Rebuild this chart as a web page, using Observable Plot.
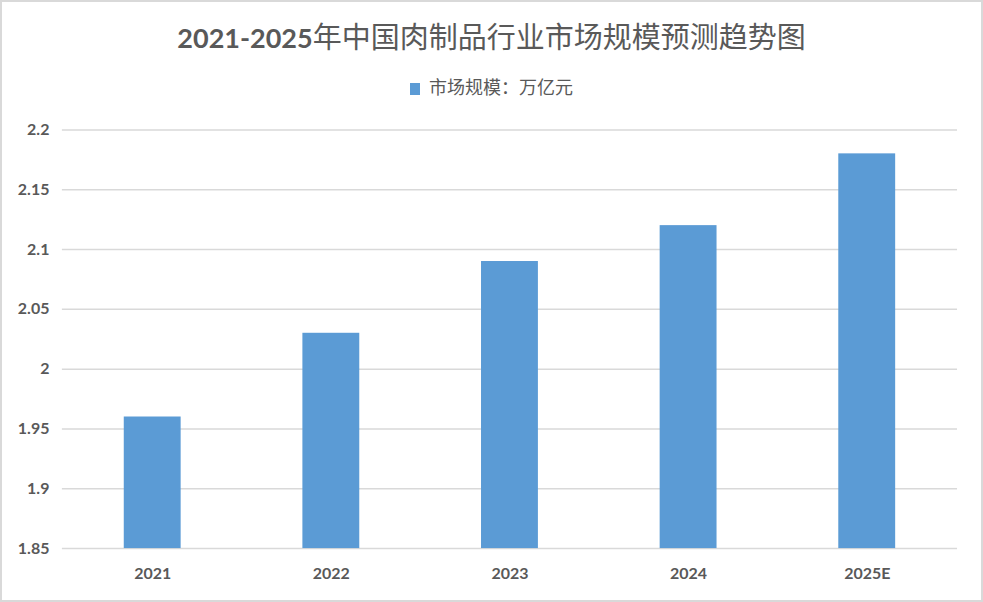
<!DOCTYPE html>
<html><head><meta charset="utf-8">
<script src="https://cdn.jsdelivr.net/npm/d3@7"></script>
<script src="https://cdn.jsdelivr.net/npm/@observablehq/plot@0.6"></script>
<style>
body{margin:0;background:#fff}
#frame{position:relative;width:983px;height:602px;box-sizing:border-box;border:2px solid #d9d9d9;overflow:hidden;background:#fff}
#title{position:absolute;top:13px;left:-2px;width:983px;text-align:center;font-size:29px;color:#595959;font-family:"Noto Sans CJK SC";line-height:40px;white-space:nowrap}
#title .num{font-family:Lato;font-weight:bold;font-size:27px}
#legend{position:absolute;top:71px;left:-2px;width:983px;text-align:center;font-family:"Noto Sans CJK SC";font-size:18px;color:#595959;line-height:26px}
#legend .sw{display:inline-block;width:10px;height:12px;background:#5b9bd5;margin-right:9px;vertical-align:-1px}
#chart{position:absolute;top:98px;left:-2px}
</style></head>
<body>
<div id="frame">
  <div id="title"><span class="num">2021-2025</span>年中国肉制品行业市场规模预测趋势图</div>
  <div id="legend"><span class="sw"></span>市场规模：万亿元</div>
  <div id="chart"></div>
</div>
<script>
const categories = ["2021","2022","2023","2024","2025E"];
const values = [1.96, 2.03, 2.09, 2.12, 2.18];
const yTicks = [1.85, 1.9, 1.95, 2, 2.05, 2.1, 2.15, 2.2];
const yTickLabels = ["1.85","1.9","1.95","2","2.05","2.1","2.15","2.2"];

const data = categories.map((c, i) => ({year: c, value: values[i]}));
const baseline = yTicks[0];

const chart = Plot.plot({
  width: 983,
  height: 500,
  marginLeft: 62,
  marginRight: 24,
  marginTop: 29.5,
  marginBottom: 51,
  x: {domain: categories, paddingInner: 0.68, paddingOuter: 0.34, label: null},
  y: {domain: [yTicks[0], yTicks[yTicks.length - 1]], label: null},
  style: {fontFamily: "Lato", fontWeight: "bold", fontSize: "16px", color: "#595959", background: "transparent", overflow: "visible"},
  marks: [
    Plot.ruleY(yTicks, {stroke: "#d9d9d9", strokeWidth: 1.5}),
    Plot.barY(data, {x: "year", y1: baseline, y2: "value", fill: "#5b9bd5"}),
    Plot.axisY({ticks: yTicks, tickSize: 0, tickPadding: 13, tickFormat: d => yTickLabels[yTicks.indexOf(d)], fontSize: 16}),
    Plot.axisX({tickSize: 0, tickPadding: 19, fontSize: 16})
  ]
});
document.getElementById("chart").appendChild(chart);
</script>
</body></html>
